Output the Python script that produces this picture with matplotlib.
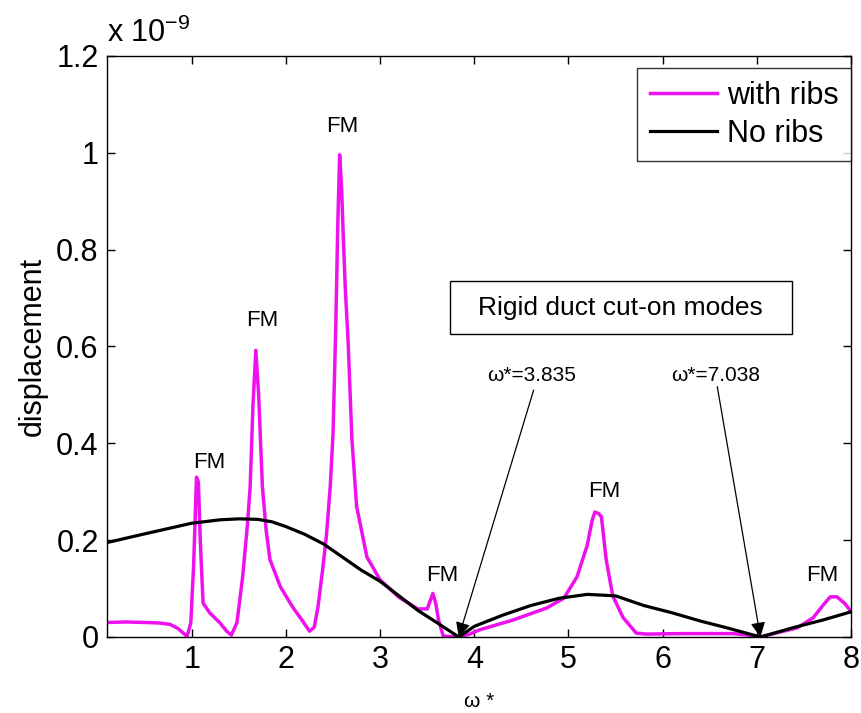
import matplotlib
matplotlib.use("Agg")
import matplotlib.pyplot as plt
from matplotlib.patches import Rectangle

plt.rcParams['font.family'] = ['Liberation Sans', 'DejaVu Sans']
plt.rcParams['mathtext.fontset'] = 'custom'
plt.rcParams['mathtext.rm'] = 'Liberation Sans'
plt.rcParams['mathtext.it'] = 'Liberation Sans'

# displacement, in units of 1e-9
w_ribs = [0.10, 0.30, 0.50, 0.65, 0.77, 0.85, 0.91, 0.95, 0.99, 1.02, 1.05, 1.07,
          1.09, 1.12, 1.19, 1.30, 1.37, 1.42, 1.48, 1.54, 1.59, 1.62, 1.65, 1.68,
          1.71, 1.75, 1.79, 1.83, 1.94, 2.07, 2.17, 2.25, 2.30, 2.34, 2.39, 2.43,
          2.47, 2.50, 2.53, 2.55, 2.57, 2.59, 2.61, 2.63, 2.66, 2.70, 2.75, 2.86, 3.00,
          3.20, 3.40, 3.50, 3.56, 3.59, 3.62, 3.67, 3.75, 3.85, 3.95, 4.06, 4.41,
          4.77, 4.95, 5.09, 5.20, 5.25, 5.28, 5.32, 5.35, 5.40, 5.47, 5.58, 5.72,
          5.83, 6.20, 6.75, 6.95, 7.04, 7.20, 7.43, 7.60, 7.70, 7.78, 7.85, 7.93,
          8.00]
d_ribs = [0.030, 0.031, 0.030, 0.029, 0.026, 0.018, 0.008, 0.001, 0.030, 0.150, 0.330, 0.320,
          0.200, 0.070, 0.050, 0.029, 0.012, 0.004, 0.030, 0.124, 0.230, 0.310, 0.480, 0.592,
          0.500, 0.310, 0.220, 0.160, 0.104, 0.062, 0.035, 0.012, 0.020, 0.062, 0.140, 0.210,
          0.310, 0.420, 0.650, 0.850, 0.996, 0.930, 0.820, 0.720, 0.610, 0.410, 0.270, 0.165, 0.118,
          0.082, 0.058, 0.058, 0.090, 0.070, 0.035, 0.002, 0.001, 0.000, 0.006, 0.015, 0.035,
          0.060, 0.080, 0.124, 0.190, 0.240, 0.258, 0.255, 0.248, 0.160, 0.085, 0.040, 0.008,
          0.006, 0.007, 0.007, 0.003, 0.000, 0.008, 0.019, 0.040, 0.065, 0.083, 0.083, 0.070,
          0.053]

w_plain = [0.10, 0.50, 1.00, 1.30, 1.50, 1.70, 1.85, 2.00, 2.20, 2.40, 2.60, 2.80, 3.00, 3.20,
           3.40, 3.60, 3.835, 4.00, 4.30, 4.60, 4.90, 5.20, 5.50, 5.80, 6.10, 6.40,
           6.70, 7.038, 7.40, 7.70, 8.00]
d_plain = [0.195, 0.213, 0.235, 0.242, 0.244, 0.243, 0.238, 0.228, 0.212, 0.192, 0.165, 0.138,
           0.115, 0.085, 0.055, 0.030, 0.000, 0.022, 0.045, 0.065, 0.080, 0.088, 0.085, 0.065,
           0.050, 0.033, 0.018, 0.000, 0.020, 0.035, 0.052]

# flexural mode peaks (label positions)
fm_x = [1.19, 1.745, 2.60, 3.66, 5.38, 7.69]
fm_y = [0.36, 0.653, 1.054, 0.128, 0.30, 0.128]

# rigid duct cut-on frequencies
cuton = [3.835, 7.038]
cuton_lbl = [r"ω*=3.835", r"ω*=7.038"]

fig = plt.figure(figsize=(8.61, 7.13), dpi=100)
ax = fig.add_axes([0.1243, 0.1066, 0.8641, 0.8149])

ax.plot(w_ribs, d_ribs, color="#ee11ee", lw=2.5, label="with ribs")
ax.plot(w_plain, d_plain, color="k", lw=2.3, label="No ribs")

ax.set_xlim(0.1, 8)
ax.set_ylim(0, 1.2)
ax.set_xticks(range(1, 9))
ax.set_yticks([0, 0.2, 0.4, 0.6, 0.8, 1.0, 1.2])
ax.set_yticklabels(["0", "0.2", "0.4", "0.6", "0.8", "1", "1.2"])
ax.tick_params(direction="in", length=6, width=1, top=True, right=True,
               labelsize=22, pad=6)
for s in ax.spines.values():
    s.set_linewidth(1.0)

ax.set_ylabel("displacement", fontsize=22, labelpad=6)
ax.set_xlabel("ω *", fontsize=15, labelpad=12)
ax.text(0.0, 1.012, r"x 10$^{-9}$", transform=ax.transAxes, fontsize=22,
        ha="left", va="bottom")

for x, y in zip(fm_x, fm_y):
    ax.text(x, y, "FM", fontsize=16, ha="center", va="center")

# cut-on annotation box
ax.add_patch(Rectangle((3.74, 0.626), 3.63, 0.109, fill=False, ec="k", lw=1.0))
ax.text(5.555, 0.68, "Rigid duct cut-on modes", fontsize=19, ha="center", va="center")

starts = [(4.63, 0.51), (6.58, 0.517)]
for xc, lbl, (xs, ys) in zip(cuton, cuton_lbl, starts):
    ax.text(xs - 0.02, 0.54, lbl, fontsize=15, ha="center", va="center")
    ax.annotate("", xy=(xc, 0.0), xytext=(xs, ys),
                arrowprops=dict(arrowstyle="-|>", color="k", lw=0.9,
                                mutation_scale=22, shrinkA=0, shrinkB=0))

leg = ax.legend(loc="upper right", bbox_to_anchor=(1.0, 0.979), borderaxespad=0,
                fontsize=22, frameon=True, fancybox=False, handlelength=2.2,
                handletextpad=0.3, labelspacing=0.25, borderpad=0.42)
leg.get_frame().set_edgecolor("k")
leg.get_frame().set_linewidth(1.0)

fig.savefig("out.png", dpi=100)
